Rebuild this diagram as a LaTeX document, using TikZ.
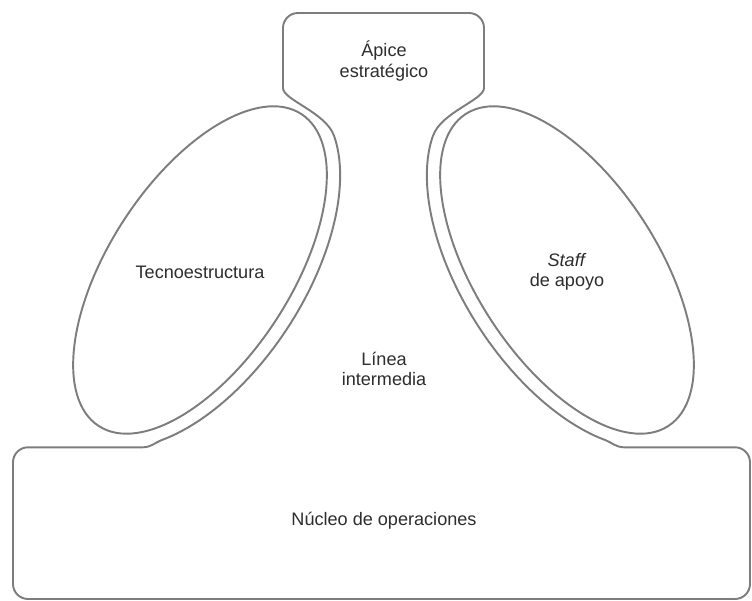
\documentclass[tikz,border=0pt]{standalone}
\usepackage{fontspec}
\setmainfont{Liberation Sans}
\usepackage{tikz}
\usetikzlibrary{positioning}
\definecolor{linegray}{RGB}{125,125,125}
\definecolor{textgray}{RGB}{45,45,45}
\tikzset{part/.style={draw=linegray,line width=1.1pt,line join=round}}
\tikzstyle{lbl}=[align=center,text=textgray,font=\fontsize{10.3}{11.5}\selectfont]

\begin{document}
\begin{tikzpicture}[x=0.02cm,y=-0.02cm]
    \useasboundingbox (0,0) rectangle (752,601);
    % contorno: apice, linea intermedia y nucleo
    \draw[part] (283,88) -- (283,28) arc[start angle=180,end angle=270,radius=15]
        -- (469,13) arc[start angle=270,end angle=360,radius=15] -- (484,88)
        .. controls (484,100) and (441.3,112.2) .. (433,135.8)
        -- plot[domain=22:145,samples=60] ({567-109*cos(\x)-88.1*sin(\x)},{270-167.8*cos(\x)+57.2*sin(\x)})
        .. controls (611.3,442.3) and (616,447.3) .. (624,447.3)
        -- (735,447.3) arc[start angle=270,end angle=360,radius=15]
        -- (750,584) arc[start angle=0,end angle=90,radius=15]
        -- (28,599) arc[start angle=90,end angle=180,radius=15]
        -- (13,462.3) arc[start angle=180,end angle=270,radius=15]
        -- (143,447.3) .. controls (151,447.3) and (155.7,442.3) .. (161.3,440.2)
        -- plot[domain=145:22,samples=60] ({200+109*cos(\x)+88.1*sin(\x)},{270-167.8*cos(\x)+57.2*sin(\x)})
        .. controls (325.7,112.2) and (283,100) .. (283,88) -- cycle;
    % tecnoestructura y staff
    \draw[part,rotate around={57:(200,270)}] (200,270) ellipse [x radius=186,y radius=91];
    \draw[part,rotate around={-57:(567,270)}] (567,270) ellipse [x radius=186,y radius=91];
    \node[lbl] (apice) at (384,61) {Ápice\\estratégico};
    \node[lbl] (tecno) at (200,272) {Tecnoestructura};
    \node[lbl] (staff) at (567,272) {\textit{Staff}\\de apoyo};
    \node[lbl] (linea) at (384,369) {Línea\\intermedia};
    \node[lbl] (nucleo) at (384,521) {Núcleo de operaciones};
\end{tikzpicture}
\end{document}
